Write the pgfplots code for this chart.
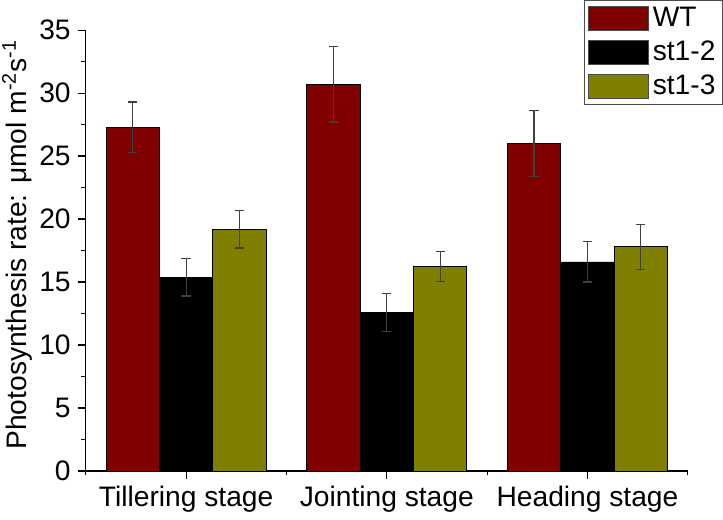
\documentclass[border=0pt]{standalone}
\usepackage{pgfplots}
\pgfplotsset{compat=1.18}
\usepackage{fontspec}
\setmainfont{Liberation Sans}
\definecolor{wt}{RGB}{128,0,0}
\definecolor{olv}{RGB}{128,128,0}
\newcommand{\fs}{\fontsize{14pt}{16pt}\selectfont}
\begin{document}
\begin{tikzpicture}
\begin{axis}[
  scale only axis,
  width=299pt, height=219pt,
  xmin=0.5, xmax=3.5, ymin=0, ymax=35,
  axis lines=left, axis line style={-, line width=0.6pt},
  ybar=0pt, bar width=26.5pt,
  xtick={1,2,3},
  xticklabels={Tillering stage, Jointing stage, Heading stage},
  minor xtick={0.5,1.5,2.5,3.5},
  ytick={0,5,...,35},
  minor ytick={2.5,7.5,...,32.5},
  tick align=outside,
  major tick length=4pt, minor tick length=2.2pt,
  tick style={black, line width=0.6pt},
  /pgf/number format/assume math mode=true,
  tick label style={font=\fs},
  ylabel={Photosynthesis rate: μmol m\textsuperscript{-2}s\textsuperscript{-1}},
  ylabel style={font=\fontsize{14pt}{16pt}\selectfont, inner sep=1pt, xshift=3pt, yshift=-1pt},
  legend style={at={(1.0585,1.0683)}, anchor=north east, font=\fs, draw=black!70, line width=0.5pt, inner sep=1.5pt, row sep=1.5pt, cells={anchor=west}},
  legend image code/.code={\draw[#1, draw=black!70] (0pt,-6pt) rectangle (30pt,6pt);},
  error bars/y dir=both, error bars/y explicit,
  error bars/error bar style={black!75, line width=0.6pt},
  error bars/error mark options={rotate=90, mark size=2.3pt, black!75, line width=0.6pt},
]
\addplot[fill=wt, draw=black, line width=0.4pt] coordinates {(1,27.3) +- (0,2.0) (2,30.7) +- (0,3.0) (3,26.0) +- (0,2.6)};
\addplot[fill=black, draw=black, line width=0.4pt] coordinates {(1,15.4) +- (0,1.5) (2,12.6) +- (0,1.5) (3,16.6) +- (0,1.6)};
\addplot[fill=olv, draw=black, line width=0.4pt] coordinates {(1,19.2) +- (0,1.5) (2,16.25) +- (0,1.2) (3,17.8) +- (0,1.8)};
\legend{WT, st1-2, st1-3}
\end{axis}
\end{tikzpicture}
\end{document}
